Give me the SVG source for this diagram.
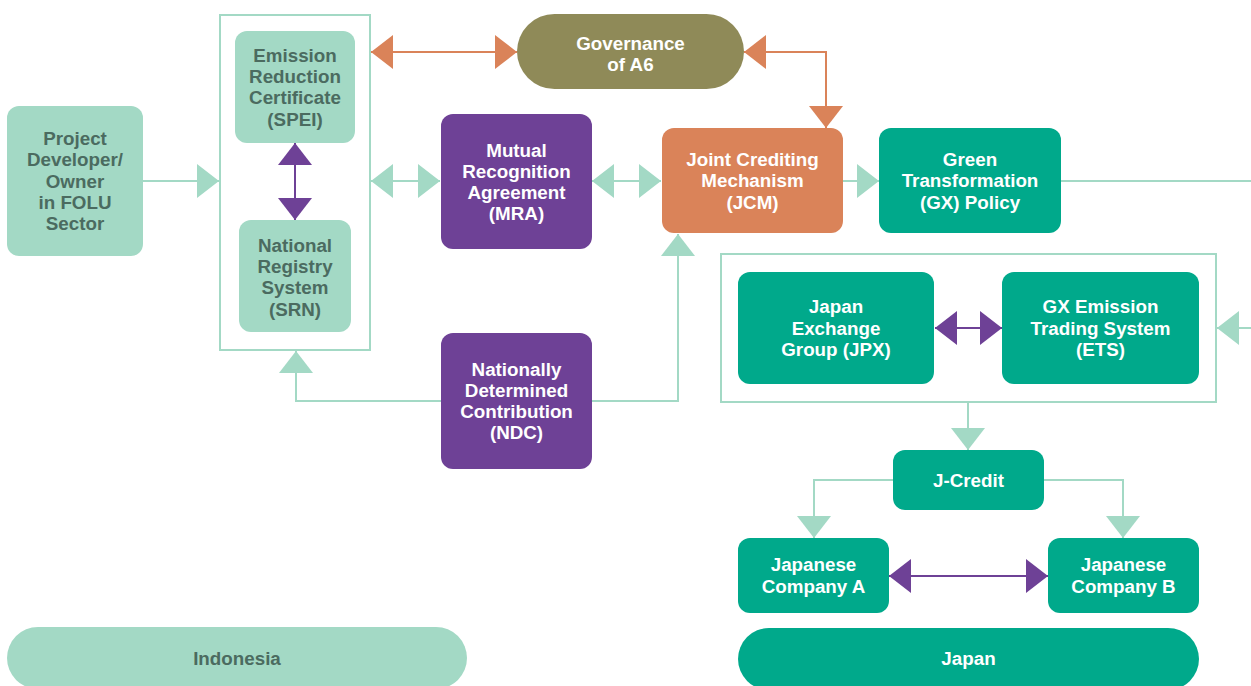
<svg xmlns="http://www.w3.org/2000/svg" width="1251" height="686" viewBox="0 0 1251 686">
<defs>
<style>
.t{font-family:"Liberation Sans",Arial,sans-serif;font-weight:bold;font-size:18.8px;text-anchor:middle}
.w{fill:#ffffff}
.d{fill:#4b6b60}
.lg{fill:#a3d9c5}
.tl{fill:#00a98b}
.pu{fill:#6e4196}
.or{fill:#da8359}
.ol{fill:#8f8a58}
.box{fill:none;stroke:#a3d9c5;stroke-width:2}
.cg{fill:none;stroke:#a3d9c5;stroke-width:2}
.cp{fill:none;stroke:#6e4196;stroke-width:2}
.co{fill:none;stroke:#da8359;stroke-width:2}
</style>
<marker id="aG" viewBox="0 0 22 34" refX="22" refY="17" markerWidth="22" markerHeight="34" markerUnits="userSpaceOnUse" orient="auto-start-reverse"><path d="M0,0 L22,17 L0,34 Z" fill="#a3d9c5"/></marker>
<marker id="aP" viewBox="0 0 22 34" refX="22" refY="17" markerWidth="22" markerHeight="34" markerUnits="userSpaceOnUse" orient="auto-start-reverse"><path d="M0,0 L22,17 L0,34 Z" fill="#6e4196"/></marker>
<marker id="aO" viewBox="0 0 22 34" refX="22" refY="17" markerWidth="22" markerHeight="34" markerUnits="userSpaceOnUse" orient="auto-start-reverse"><path d="M0,0 L22,17 L0,34 Z" fill="#da8359"/></marker>
</defs>
<rect width="1251" height="686" fill="#ffffff"/>

<g id="containers">
<rect class="box" x="220" y="15" width="150" height="335"/>
<rect class="box" x="721" y="254" width="495" height="148"/>
</g>

<g id="connectors">
<path class="cg" d="M143,181 H219" marker-end="url(#aG)"/>
<path class="cg" d="M371,181 H440" marker-start="url(#aG)" marker-end="url(#aG)"/>
<path class="cg" d="M592,181 H661" marker-start="url(#aG)" marker-end="url(#aG)"/>
<path class="cg" d="M843,181 H879" marker-end="url(#aG)"/>
<path class="cg" d="M1061,181 H1251"/>
<path class="cg" d="M1251,328 H1217" marker-end="url(#aG)"/>
<path class="co" d="M371,52 H517" marker-start="url(#aO)" marker-end="url(#aO)"/>
<path class="co" d="M744,52 H826 V128" marker-start="url(#aO)" marker-end="url(#aO)"/>
<path class="cp" d="M295,143 V220" marker-start="url(#aP)" marker-end="url(#aP)"/>
<path class="cg" d="M441,401 H296 V351" marker-end="url(#aG)"/>
<path class="cg" d="M592,401 H678 V234" marker-end="url(#aG)"/>
<path class="cp" d="M935,328 H1002" marker-start="url(#aP)" marker-end="url(#aP)"/>
<path class="cg" d="M968,402 V450" marker-end="url(#aG)"/>
<path class="cg" d="M893,480 H814 V538" marker-end="url(#aG)"/>
<path class="cg" d="M1044,480 H1123 V538" marker-end="url(#aG)"/>
<path class="cp" d="M889,576 H1048" marker-start="url(#aP)" marker-end="url(#aP)"/>
</g>

<g id="project-developer">
<rect class="lg" x="7" y="106" width="136" height="150" rx="12"/>
<text class="t d" x="75" y="145">Project</text>
<text class="t d" x="75" y="166.3">Developer/</text>
<text class="t d" x="75" y="187.6">Owner</text>
<text class="t d" x="75" y="208.9">in FOLU</text>
<text class="t d" x="75" y="230.2">Sector</text>
</g>

<g id="spei">
<rect class="lg" x="235" y="31" width="120" height="112" rx="12"/>
<text class="t d" x="295" y="61.6">Emission</text>
<text class="t d" x="295" y="82.9">Reduction</text>
<text class="t d" x="295" y="104.2">Certificate</text>
<text class="t d" x="295" y="125.5">(SPEI)</text>
</g>

<g id="srn">
<rect class="lg" x="239" y="220" width="112" height="112" rx="12"/>
<text class="t d" x="295" y="251.6">National</text>
<text class="t d" x="295" y="272.9">Registry</text>
<text class="t d" x="295" y="294.2">System</text>
<text class="t d" x="295" y="315.5">(SRN)</text>
</g>

<g id="governance">
<rect class="ol" x="517" y="14" width="227" height="75" rx="37.5"/>
<text class="t w" x="630.5" y="49.5">Governance</text>
<text class="t w" x="630.5" y="70.8">of A6</text>
</g>

<g id="mra">
<rect class="pu" x="441" y="114" width="151" height="135" rx="12"/>
<text class="t w" x="516.5" y="156.5">Mutual</text>
<text class="t w" x="516.5" y="177.8">Recognition</text>
<text class="t w" x="516.5" y="199.1">Agreement</text>
<text class="t w" x="516.5" y="220.4">(MRA)</text>
</g>

<g id="jcm">
<rect class="or" x="662" y="128" width="181" height="105" rx="12"/>
<text class="t w" x="752.5" y="166">Joint Crediting</text>
<text class="t w" x="752.5" y="187.3">Mechanism</text>
<text class="t w" x="752.5" y="208.6">(JCM)</text>
</g>

<g id="gx-policy">
<rect class="tl" x="879" y="128" width="182" height="105" rx="12"/>
<text class="t w" x="970" y="166">Green</text>
<text class="t w" x="970" y="187.3">Transformation</text>
<text class="t w" x="970" y="208.6">(GX) Policy</text>
</g>

<g id="ndc">
<rect class="pu" x="441" y="333" width="151" height="136" rx="12"/>
<text class="t w" x="516.5" y="375.5">Nationally</text>
<text class="t w" x="516.5" y="396.8">Determined</text>
<text class="t w" x="516.5" y="418.1">Contribution</text>
<text class="t w" x="516.5" y="439.4">(NDC)</text>
</g>

<g id="jpx">
<rect class="tl" x="738" y="272" width="196" height="112" rx="12"/>
<text class="t w" x="836" y="313.3">Japan</text>
<text class="t w" x="836" y="334.6">Exchange</text>
<text class="t w" x="836" y="355.9">Group (JPX)</text>
</g>

<g id="ets">
<rect class="tl" x="1002" y="272" width="197" height="112" rx="12"/>
<text class="t w" x="1100.5" y="313.3">GX Emission</text>
<text class="t w" x="1100.5" y="334.6">Trading System</text>
<text class="t w" x="1100.5" y="355.9">(ETS)</text>
</g>

<g id="j-credit">
<rect class="tl" x="893" y="450" width="151" height="60" rx="12"/>
<text class="t w" x="968.5" y="486.6">J-Credit</text>
</g>

<g id="company-a">
<rect class="tl" x="738" y="538" width="151" height="75" rx="12"/>
<text class="t w" x="813.5" y="571">Japanese</text>
<text class="t w" x="813.5" y="592.5">Company A</text>
</g>

<g id="company-b">
<rect class="tl" x="1048" y="538" width="151" height="75" rx="12"/>
<text class="t w" x="1123.5" y="571">Japanese</text>
<text class="t w" x="1123.5" y="592.5">Company B</text>
</g>

<g id="indonesia">
<rect class="lg" x="7" y="627" width="460" height="62" rx="31"/>
<text class="t d" x="237" y="665">Indonesia</text>
</g>

<g id="japan">
<rect class="tl" x="738" y="628" width="461" height="62" rx="31"/>
<text class="t w" x="968.5" y="665">Japan</text>
</g>
</svg>
